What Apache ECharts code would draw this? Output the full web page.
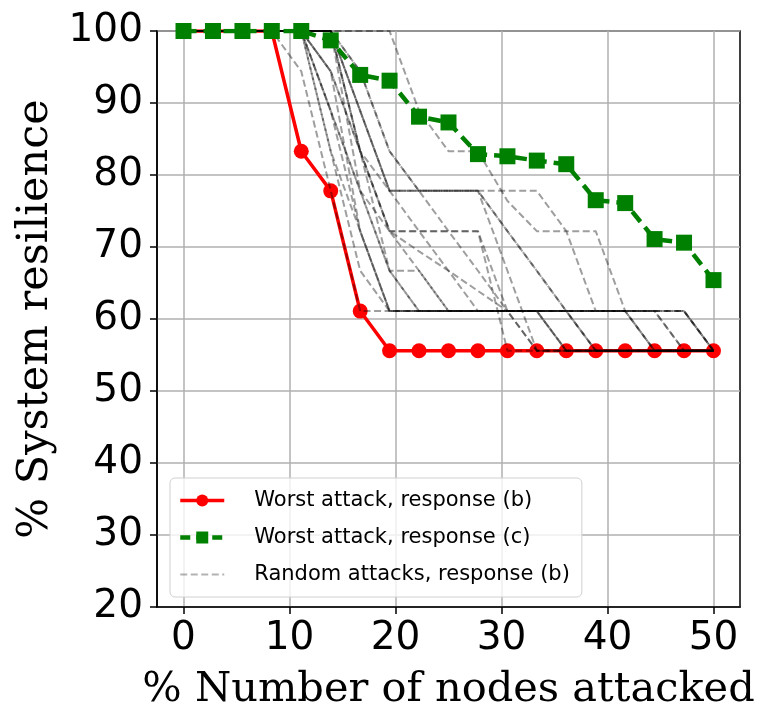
<!DOCTYPE html>
<html>
<head>
<meta charset="utf-8">
<script src="https://cdn.jsdelivr.net/npm/echarts@6/dist/echarts.min.js"></script>
<style>
  html, body { margin: 0; padding: 0; background: #fff; }
  #chart { width: 772px; height: 727px; }
</style>
</head>
<body>
<div id="chart"></div>
<script>
// % of nodes attacked (36 nodes, 0..18 attacked)
const xs = [0, 2.78, 5.56, 8.33, 11.11, 13.89, 16.67, 19.44, 22.22, 25, 27.78, 30.56, 33.33, 36.11, 38.89, 41.67, 44.44, 47.22, 50];
const xTicks = [0, 10, 20, 30, 40, 50];

const worstB = [100, 100, 100, 100, 83.3, 77.8, 61.1, 55.6, 55.6, 55.6, 55.6, 55.6, 55.6, 55.6, 55.6, 55.6, 55.6, 55.6, 55.6];
const worstC = [100, 100, 100, 100, 100, 98.7, 93.9, 93.1, 88.1, 87.3, 82.9, 82.6, 82.0, 81.5, 76.5, 76.1, 71.1, 70.6, 65.4];

// random attacks, response (b)
const randA = [100, 100, 100, 100, 94.4, 77.8, 61.1, 61.1, 61.1, 61.1, 61.1, 61.1, 55.6, 55.6, 55.6, 55.6, 55.6, 55.6, 55.6];
const randB = [100, 100, 100, 100, 100, 83.3, 66.7, 61.1, 61.1, 61.1, 61.1, 61.1, 61.1, 55.6, 55.6, 55.6, 55.6, 55.6, 55.6];
const randC = [100, 100, 100, 100, 100, 88.9, 72.2, 61.1, 61.1, 61.1, 61.1, 61.1, 61.1, 61.1, 55.6, 55.6, 55.6, 55.6, 55.6];
const randD = [100, 100, 100, 100, 100, 83.3, 72.2, 61.1, 61.1, 61.1, 61.1, 61.1, 61.1, 61.1, 61.1, 61.1, 55.6, 55.6, 55.6];
const randE = [100, 100, 100, 100, 100, 88.9, 77.8, 66.7, 61.1, 61.1, 61.1, 61.1, 61.1, 61.1, 61.1, 61.1, 61.1, 55.6, 55.6];
const randF = [100, 100, 100, 100, 100, 100, 88.9, 77.8, 77.8, 77.8, 77.8, 72.2, 66.7, 61.1, 61.1, 61.1, 61.1, 61.1, 55.6];
const randG = [100, 100, 100, 100, 100, 100, 94.4, 83.3, 77.8, 72.2, 66.7, 61.1, 61.1, 55.6, 55.6, 55.6, 55.6, 55.6, 55.6];
const randH = [100, 100, 100, 100, 100, 100, 77.8, 72.2, 69.4, 66.7, 63.9, 61.1, 61.1, 61.1, 61.1, 61.1, 55.6, 55.6, 55.6];
const randI = [100, 100, 100, 100, 100, 100, 83.3, 66.7, 66.7, 61.1, 61.1, 61.1, 61.1, 61.1, 61.1, 61.1, 61.1, 55.6, 55.6];
const randJ = [100, 100, 100, 100, 100, 94.4, 83.3, 72.2, 72.2, 72.2, 72.2, 61.1, 55.6, 55.6, 55.6, 55.6, 55.6, 55.6, 55.6];
const randK = [100, 100, 100, 100, 100, 100, 83.3, 72.2, 72.2, 72.2, 72.2, 55.6, 55.6, 55.6, 55.6, 55.6, 55.6, 55.6, 55.6];
const randL = [100, 100, 100, 100, 100, 100, 88.9, 77.8, 77.8, 77.8, 77.8, 77.8, 77.8, 72.2, 72.2, 61.1, 61.1, 61.1, 55.6];
const randM = [100, 100, 100, 100, 100, 100, 100, 100, 88.9, 83.3, 83.3, 76.4, 72.2, 72.2, 61.1, 61.1, 55.6, 55.6, 55.6];
const randN = [100, 100, 100, 100, 100, 100, 88.9, 77.8, 77.8, 77.8, 77.8, 72.2, 66.7, 61.1, 55.6, 55.6, 55.6, 55.6, 55.6];
const randO = [100, 100, 100, 100, 100, 100, 94.4, 83.3, 77.8, 77.8, 77.8, 66.7, 55.6, 55.6, 55.6, 55.6, 55.6, 55.6, 55.6];
const randP = [100, 100, 100, 100, 100, 94.4, 83.3, 77.8, 72.2, 66.7, 61.1, 61.1, 61.1, 61.1, 61.1, 61.1, 61.1, 61.1, 55.6];
const randQ = [100, 100, 100, 100, 100, 88.9, 77.8, 66.7, 61.1, 61.1, 61.1, 61.1, 61.1, 61.1, 55.6, 55.6, 55.6, 55.6, 55.6];
const randR = [100, 100, 100, 100, 100, 94.4, 72.2, 61.1, 61.1, 61.1, 61.1, 61.1, 61.1, 55.6, 55.6, 55.6, 55.6, 55.6, 55.6];
const randS = [100, 100, 100, 100, 100, 100, 83.3, 72.2, 66.7, 61.1, 61.1, 61.1, 61.1, 61.1, 61.1, 61.1, 61.1, 61.1, 55.6];
const randomRuns = [randA, randB, randC, randD, randE, randF, randG, randH, randI, randJ, randK, randL, randM, randN, randO, randP, randQ, randR, randS];

const nameB = "Worst attack, response (b)";
const nameC = "Worst attack, response (c)";
const nameR = "Random attacks, response (b)";

const pts = (ys) => xs.map((x, i) => [x, ys[i]]);

const chart = echarts.init(document.getElementById("chart"), null, { renderer: "canvas" });

const randomSeries = randomRuns.map((run, k) => ({
  name: nameR,
  type: "line",
  data: pts(run),
  symbol: "none",
  z: 3,
  lineStyle: { color: "#000", opacity: 0.38, width: 2, type: [7, 3.5], dashOffset: (k * 2.3) % 10.5 },
  itemStyle: { color: "#000", opacity: 0 },
  emphasis: { disabled: true }
}));

chart.setOption({
  animation: false,
  backgroundColor: "#fff",
  grid: { left: 157, right: 32, top: 31, bottom: 120, show: true, borderColor: "#000", borderWidth: 1.5, backgroundColor: "transparent" },
  legend: {
    left: 170,
    top: 478,
    orient: "vertical",
    padding: [10, 12, 10, 8],
    itemGap: 12,
    itemWidth: 44,
    itemHeight: 15,
    backgroundColor: "rgba(255,255,255,0.8)",
    borderColor: "#d0d0d0",
    borderWidth: 1,
    borderRadius: 5,
    textStyle: { fontFamily: "DejaVu Sans", fontSize: 21, lineHeight: 25, color: "#000", padding: [0, 0, 0, 25] },
    data: [
      { name: nameB, lineStyle: { width: 3.5 } },
      { name: nameC, lineStyle: { width: 4.5, type: [10, 6] } },
      { name: nameR, itemStyle: { opacity: 0 }, lineStyle: { opacity: 0.3 } }
    ]
  },
  xAxis: {
    type: "value",
    min: -2.5,
    max: 52.5,
    name: "% Number of nodes attacked",
    nameLocation: "middle",
    nameGap: 62,
    nameTextStyle: { fontFamily: "DejaVu Serif", fontSize: 41.5, color: "#000" },
    axisLine: { onZero: false, lineStyle: { color: "#000", width: 1.5 } },
    axisTick: { customValues: xTicks, length: 7, lineStyle: { color: "#000", width: 1.5 } },
    axisLabel: { customValues: xTicks, fontFamily: "DejaVu Sans", fontSize: 39, color: "#000", margin: 12 },
    splitLine: { show: true, lineStyle: { color: "#b0b0b0", width: 1.5 } }
  },
  yAxis: {
    type: "value",
    min: 20,
    max: 100,
    interval: 10,
    name: "% System resilience",
    nameLocation: "middle",
    nameGap: 100,
    nameRotate: 90,
    nameTextStyle: { fontFamily: "DejaVu Serif", fontSize: 43, color: "#000" },
    axisLine: { show: true, onZero: false, lineStyle: { color: "#000", width: 1.5 } },
    axisTick: { show: true, length: 7, lineStyle: { color: "#000", width: 1.5 } },
    axisLabel: { fontFamily: "DejaVu Sans", fontSize: 39, color: "#000", margin: 14 },
    splitLine: { show: true, lineStyle: { color: "#b0b0b0", width: 1.5 } }
  },
  series: [
    {
      name: nameB,
      type: "line",
      data: pts(worstB),
      symbol: "circle",
      symbolSize: 15,
      z: 2,
      lineStyle: { color: "#ff0000", width: 3.5 },
      itemStyle: { color: "#ff0000" }
    },
    ...randomSeries,
    {
      name: nameC,
      type: "line",
      data: pts(worstC),
      symbol: "rect",
      symbolSize: 16,
      z: 4,
      lineStyle: { color: "#008000", width: 4.5, type: [13, 7] },
      itemStyle: { color: "#008000" }
    }
  ]
});
</script>
</body>
</html>
